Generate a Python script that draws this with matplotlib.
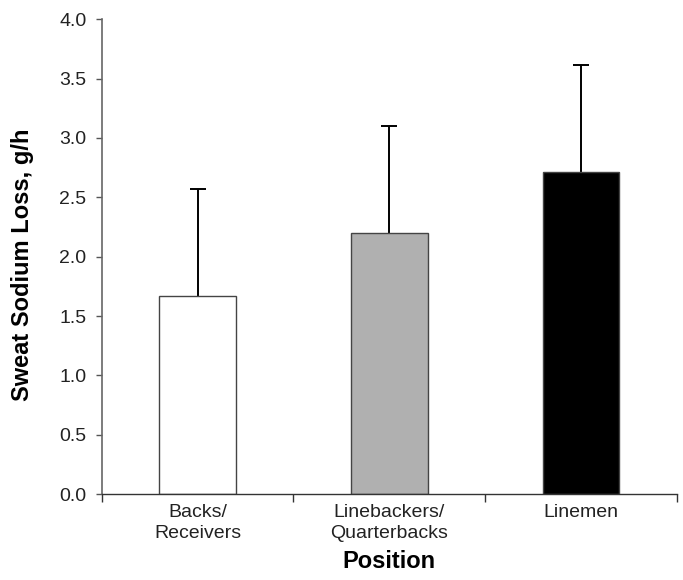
import matplotlib
matplotlib.use("Agg")
import matplotlib.pyplot as plt
import numpy as np

positions = ["Backs/\nReceivers", "Linebackers/\nQuarterbacks", "Linemen"]
sodium_loss = [1.67, 2.20, 2.71]
sodium_sd = [0.90, 0.90, 0.90]
bar_colors = ["white", "#b0b0b0", "black"]

plt.rcParams['font.family'] = ['Liberation Sans', 'DejaVu Sans']

fig = plt.figure(figsize=(6.83, 5.80), dpi=100)
ax = fig.add_axes([0.149, 0.148, 0.842, 0.819])

x = np.arange(len(positions))
# error bars behind the bars so only the upper half shows
ax.errorbar(x, sodium_loss, yerr=sodium_sd, fmt='none', ecolor='black',
            elinewidth=1.4, capsize=5.5, capthick=1.4, zorder=1)
ax.bar(x, sodium_loss, width=0.4, color=bar_colors, edgecolor='#444444',
       linewidth=1.0, zorder=2)

ax.set_xlim(-0.5, 2.5)
ax.set_ylim(0, 4.0)
ax.set_yticks(np.arange(0, 4.01, 0.5))
ax.set_yticklabels(["%.1f" % v for v in np.arange(0, 4.01, 0.5)])
ax.set_xticks(x)
ax.set_xticklabels(positions, linespacing=1.3)
ax.set_xticks([-0.5, 0.5, 1.5, 2.5], minor=True)

ax.tick_params(axis='x', which='major', length=0, pad=7, labelsize=14,
               labelcolor='#222222')
ax.tick_params(axis='x', which='minor', length=6, width=1.0, color='#333333',
               direction='out')
ax.tick_params(axis='y', length=4, width=1.0, color='#555555', pad=7,
               labelsize=14, labelcolor='#222222', direction='out')

for side in ['top', 'right']:
    ax.spines[side].set_visible(False)
ax.spines['left'].set_color('#666666')
ax.spines['bottom'].set_color('#333333')
ax.spines['left'].set_linewidth(1.2)
ax.spines['bottom'].set_linewidth(1.0)

ax.set_ylabel('Sweat Sodium Loss, g/h', fontsize=17, fontweight='bold')
ax.yaxis.set_label_coords(-0.118, 0.482)
ax.set_xlabel('Position', fontsize=17, fontweight='bold', labelpad=6)

fig.savefig('out.png', dpi=100)
